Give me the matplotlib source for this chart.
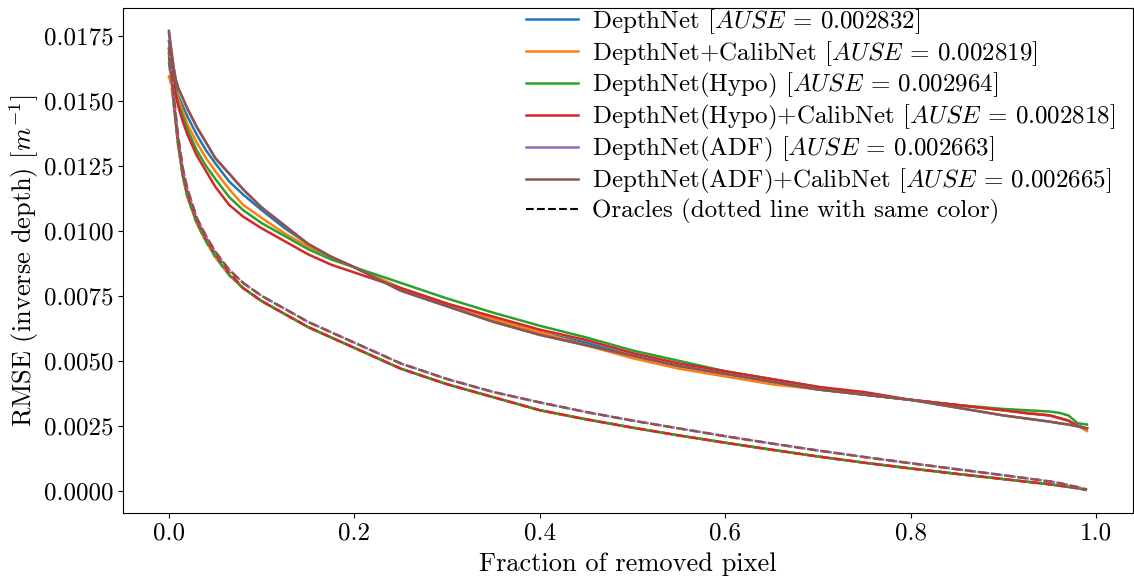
import matplotlib
matplotlib.use("Agg")
import matplotlib.pyplot as plt

plt.rcParams['font.family'] = ['cmr10', 'DejaVu Serif']
plt.rcParams['mathtext.fontset'] = 'cm'
plt.rcParams['axes.formatter.use_mathtext'] = True
plt.rcParams['axes.unicode_minus'] = False

x = [0, 0.0025, 0.005, 0.0075, 0.01, 0.015, 0.02, 0.03, 0.04, 0.05, 0.065, 0.08, 0.1,
     0.125, 0.15, 0.175, 0.2, 0.25, 0.3, 0.35, 0.4, 0.45, 0.5, 0.55, 0.6, 0.65, 0.7,
     0.75, 0.8, 0.85, 0.9, 0.925, 0.95, 0.96, 0.97, 0.98, 0.99]

labels = [
    r"DepthNet [$AUSE$ = 0.002832]",
    r"DepthNet+CalibNet [$AUSE$ = 0.002819]",
    r"DepthNet(Hypo) [$AUSE$ = 0.002964]",
    r"DepthNet(Hypo)+CalibNet [$AUSE$ = 0.002818]",
    r"DepthNet(ADF) [$AUSE$ = 0.002663]",
    r"DepthNet(ADF)+CalibNet [$AUSE$ = 0.002665]",
]
colors = ['#1f77b4', '#ff7f0e', '#2ca02c', '#d62728', '#9467bd', '#8c564b']

curve_depthnet = [0.0173, 0.0166, 0.0160, 0.0155, 0.0152, 0.0148, 0.0144, 0.0137, 0.0131, 0.0126,
                  0.0119, 0.0114, 0.0108, 0.0101, 0.0095, 0.0090, 0.0086, 0.0078, 0.0072, 0.0066,
                  0.0061, 0.0057, 0.0052, 0.0048, 0.0045, 0.0042, 0.0039, 0.0037, 0.0035, 0.0033,
                  0.0031, 0.0030, 0.0029, 0.0028, 0.0027, 0.0025, 0.0024]
curve_calib = [0.0159, 0.0158, 0.0156, 0.0154, 0.0151, 0.0146, 0.0141, 0.0134, 0.0128, 0.0123,
               0.0116, 0.0110, 0.0105, 0.0099, 0.0094, 0.0090, 0.0086, 0.0078, 0.0072, 0.0066,
               0.0061, 0.0056, 0.0051, 0.0047, 0.0044, 0.0041, 0.0039, 0.0037, 0.0035, 0.0033,
               0.0031, 0.0030, 0.0029, 0.0028, 0.0027, 0.0025, 0.0023]
curve_hypo = [0.0168, 0.0163, 0.0158, 0.0153, 0.0149, 0.0144, 0.0139, 0.0131, 0.0125, 0.0120,
              0.0113, 0.0108, 0.0103, 0.0098, 0.0093, 0.0089, 0.0086, 0.0080, 0.0074, 0.00685,
              0.00635, 0.0059, 0.0054, 0.0050, 0.0046, 0.0043, 0.0040, 0.0037, 0.0035, 0.0033,
              0.00315, 0.0031, 0.00305, 0.0030, 0.0029, 0.0026, 0.00255]
curve_hypo_calib = [0.0170, 0.0164, 0.0158, 0.0152, 0.0148, 0.0142, 0.0137, 0.0129, 0.0123, 0.0117,
                    0.0110, 0.01055, 0.0101, 0.0096, 0.0091, 0.0087, 0.0084, 0.0078, 0.0072, 0.0067,
                    0.0062, 0.0058, 0.0053, 0.0049, 0.0046, 0.0043, 0.0040, 0.0038, 0.0035, 0.0033,
                    0.0031, 0.00298, 0.0029, 0.0028, 0.0027, 0.0025, 0.0024]
curve_adf = [0.0176, 0.0169, 0.0163, 0.0158, 0.0155, 0.0151, 0.0147, 0.0140, 0.0134, 0.0128,
             0.0122, 0.0116, 0.0109, 0.0102, 0.0095, 0.0090, 0.0086, 0.0077, 0.0071, 0.0065,
             0.0060, 0.0056, 0.0052, 0.0048, 0.0045, 0.0042, 0.0039, 0.0037, 0.0035, 0.0032,
             0.0029, 0.00278, 0.00266, 0.0026, 0.00255, 0.00248, 0.0024]
curve_adf_calib = [0.0177, 0.0170, 0.0163, 0.0158, 0.0155, 0.0151, 0.0147, 0.0140, 0.0134, 0.0128,
                   0.0122, 0.0116, 0.0109, 0.0102, 0.0095, 0.0090, 0.0086, 0.0077, 0.0071, 0.0065,
                   0.0060, 0.0056, 0.0052, 0.0048, 0.0045, 0.0042, 0.0039, 0.0037, 0.0035, 0.0032,
                   0.0029, 0.00278, 0.00266, 0.0026, 0.00255, 0.00248, 0.0024]

oracle_base = [0.0165, 0.0158, 0.0150, 0.0141, 0.0133, 0.0121, 0.0113, 0.0103, 0.0096, 0.0090,
               0.0083, 0.0078, 0.0073, 0.0068, 0.0063, 0.0059, 0.0055, 0.0047, 0.0041, 0.0036,
               0.0031, 0.00275, 0.00243, 0.00213, 0.00185, 0.00158, 0.00132, 0.00108, 0.00086,
               0.00065, 0.00045, 0.00035, 0.00025, 0.0002, 0.00015, 0.0001, 0.00003]
oracle_calib = [0.0160, 0.0156, 0.0149, 0.0141, 0.0133, 0.0121, 0.0113, 0.0103, 0.0096, 0.0090,
                0.0083, 0.0078, 0.0073, 0.0068, 0.0063, 0.0059, 0.0055, 0.0047, 0.0041, 0.0036,
                0.0031, 0.00275, 0.00243, 0.00213, 0.00185, 0.00158, 0.00132, 0.00108, 0.00086,
                0.00065, 0.00045, 0.00035, 0.00025, 0.0002, 0.00015, 0.0001, 0.00003]
oracle_hypo = [0.0167, 0.0159, 0.0150, 0.0141, 0.0133, 0.0121, 0.0113, 0.0103, 0.0096, 0.0090,
               0.0083, 0.0078, 0.0073, 0.0068, 0.0063, 0.0059, 0.0055, 0.0047, 0.0041, 0.0036,
               0.0031, 0.00275, 0.00243, 0.00213, 0.00185, 0.00158, 0.00132, 0.00108, 0.00086,
               0.00065, 0.00045, 0.00035, 0.00025, 0.0002, 0.00015, 0.0001, 0.00003]
oracle_hypo_calib = [0.0169, 0.0160, 0.0151, 0.0142, 0.0134, 0.0122, 0.0114, 0.0104, 0.0097, 0.0091,
                     0.0084, 0.0078, 0.0073, 0.0068, 0.0063, 0.0059, 0.0055, 0.0047, 0.0041, 0.0036,
                     0.0031, 0.00275, 0.00243, 0.00213, 0.00185, 0.00158, 0.00132, 0.00108, 0.00086,
                     0.00065, 0.00045, 0.00035, 0.00025, 0.0002, 0.00015, 0.0001, 0.00003]
oracle_adf = [0.0170, 0.0162, 0.0153, 0.0144, 0.0136, 0.0124, 0.0116, 0.0105, 0.0098, 0.0092,
              0.0085, 0.0080, 0.0075, 0.0070, 0.0065, 0.0061, 0.0057, 0.0049, 0.0043, 0.0038,
              0.0034, 0.00303, 0.0027, 0.0024, 0.0021, 0.00182, 0.00155, 0.0013, 0.00106,
              0.00083, 0.0006, 0.00048, 0.00036, 0.0003, 0.00022, 0.00014, 0.00005]
oracle_adf_calib = [0.0171, 0.0162, 0.0153, 0.0144, 0.0136, 0.0124, 0.0116, 0.0105, 0.0098, 0.0092,
                    0.0085, 0.0080, 0.0075, 0.0070, 0.0065, 0.0061, 0.0057, 0.0049, 0.0043, 0.0038,
                    0.0034, 0.00303, 0.0027, 0.0024, 0.0021, 0.00182, 0.00155, 0.0013, 0.00106,
                    0.00083, 0.0006, 0.00048, 0.00036, 0.0003, 0.00022, 0.00014, 0.00005]

curves = [curve_depthnet, curve_calib, curve_hypo, curve_hypo_calib, curve_adf, curve_adf_calib]
oracles = [oracle_base, oracle_calib, oracle_hypo, oracle_hypo_calib, oracle_adf, oracle_adf_calib]

fig = plt.figure(figsize=(11.34, 5.76), dpi=100)
ax = fig.add_axes([0.1085, 0.1094, 0.8905, 0.877])

for c, o, col, lab in zip(curves, oracles, colors, labels):
    ax.plot(x, c, color=col, lw=1.8, label=lab)
    ax.plot(x, o, color=col, lw=1.8, ls='--')
ax.plot([], [], color='black', lw=1.5, ls='--', label='Oracles (dotted line with same color)')

ax.set_xlabel('Fraction of removed pixel', fontsize=19, labelpad=5)
ax.set_ylabel(r'RMSE (inverse depth) [$m^{-1}$]', fontsize=19, labelpad=2)
ax.tick_params(labelsize=18)
ax.set_xticks([0.0, 0.2, 0.4, 0.6, 0.8, 1.0])
ax.set_xticklabels(['0.0', '0.2', '0.4', '0.6', '0.8', '1.0'])
ax.set_yticks([0.0, 0.0025, 0.005, 0.0075, 0.01, 0.0125, 0.015, 0.0175])
ax.set_yticklabels(['0.0000', '0.0025', '0.0050', '0.0075', '0.0100', '0.0125', '0.0150', '0.0175'])

ax.legend(loc='upper right', bbox_to_anchor=(0.985, 1.006), fontsize=18, frameon=False,
          borderaxespad=0.0, handlelength=2.1, handletextpad=0.55, labelspacing=0.12,
          borderpad=0.1)

fig.savefig('out.png', dpi=100)
